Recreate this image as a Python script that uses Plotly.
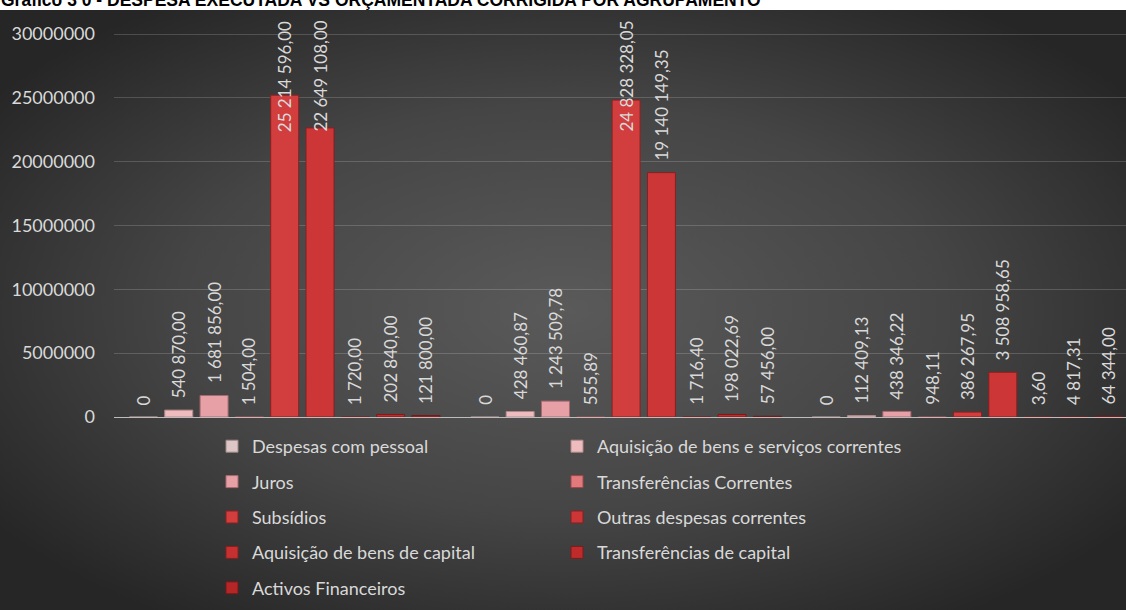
import base64
import plotly.graph_objects as go

# Three budget groupings (not labelled on the axis)
grupos = ["Grupo A", "Grupo B", "Grupo C"]

nomes = [
    "Despesas com pessoal",
    "Aquisição de bens e serviços correntes",
    "Juros",
    "Transferências Correntes",
    "Subsídios",
    "Outras despesas correntes",
    "Aquisição de bens de capital",
    "Transferências de capital",
    "Activos Financeiros",
]

despesas_pessoal = [0.00, 0.00, 0.00]
aquisicao_bens_servicos = [540870.00, 428460.87, 112409.13]
juros = [1681856.00, 1243509.78, 438346.22]
transferencias_correntes = [1504.00, 555.89, 948.11]
subsidios = [25214596.00, 24828328.05, 386267.95]
outras_despesas = [22649108.00, 19140149.35, 3508958.65]
aquisicao_bens_capital = [1720.00, 1716.40, 3.60]
transferencias_capital = [202840.00, 198022.69, 4817.31]
activos_financeiros = [121800.00, 57456.00, 64344.00]

valores = [
    despesas_pessoal,
    aquisicao_bens_servicos,
    juros,
    transferencias_correntes,
    subsidios,
    outras_despesas,
    aquisicao_bens_capital,
    transferencias_capital,
    activos_financeiros,
]

cores = ["#dcc6c6", "#eebcbe", "#e6a0a6", "#e07a7c", "#d23d3d",
         "#cc3636", "#c63030", "#bf2b2b", "#b62626"]
contornos = ["#a08888", "#b08888", "#a86a70", "#a04848", "#8a2020",
             "#852020", "#822020", "#7a1c1c", "#701a1a"]

W, H = 1126, 610
ML, MR, MT, MB = 114, 0, 14, 193
PW, PH = W - ML - MR, H - MT - MB
YMAX = 31570000
CAT_PX = 341.4           # pixel width of one category slot
BARGAP, GROUPGAP = 0.069, 0.207
TXT = "#d9d9d9"
LEG_TOP = 428            # pixel row where the legends start


def fmt(v):
    if v == 0:
        return "0"
    return f"{v:,.2f}".replace(",", " ").replace(".", ",")


fig = go.Figure()
n = len(nomes)
for k, (nome, vals) in enumerate(zip(nomes, valores)):
    fig.add_trace(go.Bar(
        x=grupos, y=vals, name=nome,
        marker=dict(color=cores[k], line=dict(color=contornos[k], width=1)),
        legend="legend" if k % 2 == 0 else "legend2",
        legendgroup=f"g{k}",
        hoverinfo="skip",
    ))

# Rotated value labels above each bar
slot = (1 - BARGAP) / n
px_per_val = PH / YMAX
fs_lab = 17
anns = []
for k, vals in enumerate(valores):
    for i, v in enumerate(vals):
        txt = fmt(v)
        xc = i + (k - (n - 1) / 2) * slot
        top_px = MT + PH - v * px_per_val
        est_len = len(txt) * fs_lab * 0.55
        font = dict(family="Lato", size=fs_lab, color=TXT)
        if top_px - 10 - est_len < MT:
            # too tall to sit above the bar: pin to the top of the plot
            anns.append(dict(x=xc, xref="x", y=1, yref="paper", yanchor="top",
                             yshift=-5, text=txt, textangle=-90,
                             showarrow=False, font=font))
        else:
            anns.append(dict(x=xc, xref="x", y=v, yref="y", yanchor="bottom",
                             yshift=10, text=txt, textangle=-90,
                             showarrow=False, font=font))

anns.append(dict(
    text="Gráfico 3 0 - DESPESA EXECUTADA VS ORÇAMENTADA CORRIGIDA POR AGRUPAMENTO",
    xref="paper", yref="paper", x=-(ML + 1) / PW, xanchor="left",
    y=1 + (MT - 12) / PH, yanchor="bottom", showarrow=False,
    font=dict(family="Liberation Sans", size=17.5, color="#000000", weight="bold"),
))

# Dark radial backdrop of the chart area
svg = (
    '<svg xmlns="http://www.w3.org/2000/svg" width="1126" height="600" '
    'viewBox="0 0 1126 600" preserveAspectRatio="none">'
    '<defs><radialGradient id="g" cx="0.5" cy="0.5" r="0.62">'
    '<stop offset="0" stop-color="#5a5a5a"/>'
    '<stop offset="0.55" stop-color="#454545"/>'
    '<stop offset="1" stop-color="#262626"/></radialGradient></defs>'
    '<rect width="1126" height="600" fill="url(#g)"/></svg>'
)
src = "data:image/svg+xml;base64," + base64.b64encode(svg.encode()).decode()
BG_TOP = 10

leg_y = (MT + PH - LEG_TOP) / PH
leg_font = dict(family="Lato", size=18, color=TXT)

fig.update_layout(
    width=W, height=H, autosize=False,
    margin=dict(l=ML, r=MR, t=MT, b=MB, pad=0),
    paper_bgcolor="#ffffff", plot_bgcolor="rgba(0,0,0,0)",
    barmode="group", bargap=BARGAP, bargroupgap=GROUPGAP,
    images=[dict(source=src, xref="paper", yref="paper",
                 x=-ML / PW, y=1 + (MT - BG_TOP) / PH,
                 sizex=W / PW, sizey=(H - BG_TOP) / PH,
                 xanchor="left", yanchor="top", sizing="stretch", layer="below")],
    annotations=anns,
    legend=dict(x=(212 - ML) / PW, xanchor="left", y=leg_y, yanchor="top",
                orientation="v", tracegroupgap=9, bgcolor="rgba(0,0,0,0)",
                font=leg_font),
    legend2=dict(x=(557 - ML) / PW, xanchor="left", y=leg_y, yanchor="top",
                 orientation="v", tracegroupgap=9, bgcolor="rgba(0,0,0,0)",
                 font=leg_font),
    showlegend=True,
)
fig.update_xaxes(range=[-0.5, -0.5 + PW / CAT_PX],
                 showticklabels=False, showgrid=False, zeroline=False,
                 showline=True, linecolor="#bdbdbd", linewidth=1, ticks="")
fig.update_yaxes(range=[0, YMAX], tickvals=[0, 5e6, 10e6, 15e6, 20e6, 25e6, 30e6],
                 tickformat="d", showgrid=True, gridcolor="rgba(255,255,255,0.17)",
                 gridwidth=1, zeroline=False, showline=False, ticks="",
                 ticklabelstandoff=18,
                 tickfont=dict(family="Lato", size=18, color=TXT))

fig.write_html("out.html")
